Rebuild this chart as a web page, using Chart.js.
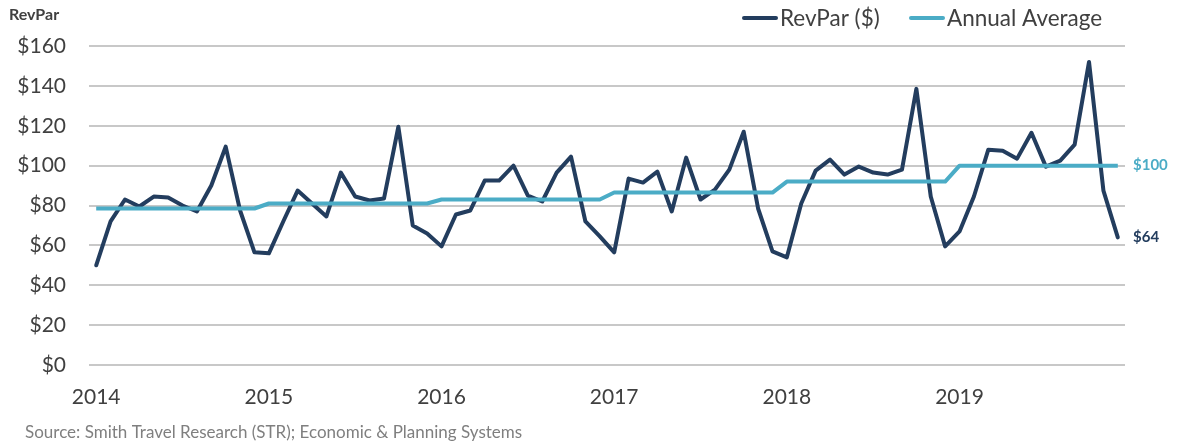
<!DOCTYPE html>
<html>
<head>
<meta charset="utf-8">
<script src="https://cdn.jsdelivr.net/npm/chart.js@4.4.0/dist/chart.umd.min.js"></script>
<style>
  html, body { margin: 0; padding: 0; background: #fff; }
  #wrap { width: 1177px; height: 447px; position: relative; }
</style>
</head>
<body>
<div id="wrap"><canvas id="revparChart"></canvas></div>
<script>
(function () {
  'use strict';

  var years = ['2014', '2015', '2016', '2017', '2018', '2019'];
  var months = ['01', '02', '03', '04', '05', '06', '07', '08', '09', '10', '11', '12'];

  // monthly RevPar, Jan 2014 - Dec 2019
  var revpar = [
    50, 72, 83, 79.5, 84.5, 84, 80, 77, 90, 109.5, 77.5, 56.5,
    56, 72, 87.5, 81, 74.5, 96.5, 84.5, 82.5, 83.5, 119.5, 70, 66,
    59.5, 75.5, 77.5, 92.5, 92.5, 100, 85, 82, 96.5, 104.5, 72, 64.5,
    56.5, 93.5, 91.5, 97, 77, 104, 83, 88, 98, 117, 78.5, 57,
    54, 81, 97.5, 103, 95.5, 99.5, 96.5, 95.5, 98, 138.5, 84.5, 59.5,
    67, 84.5, 108, 107.5, 103.5, 116.5, 99.5, 102.5, 110.5, 152, 87.5, 64
  ];
  var annualAvg = [78.5, 81, 83, 86.5, 92, 100];

  var yTicks = [0, 20, 40, 60, 80, 100, 120, 140, 160];

  var navy = '#233D5E';
  var teal = '#4BACC6';
  var font = 'Lato, "Open Sans", sans-serif';

  var labels = [];
  var avgSeries = [];
  years.forEach(function (y, yi) {
    months.forEach(function (m) {
      labels.push(y + '-' + m);
      avgSeries.push(annualAvg[yi]);
    });
  });

  var extras = {
    id: 'extras',
    afterDraw: function (chart) {
      var ctx = chart.ctx;
      var ys = chart.scales.y;
      var last = revpar.length - 1;
      ctx.save();
      ctx.textBaseline = 'middle';

      // corner title
      ctx.fillStyle = '#404040';
      ctx.font = 'bold 16px ' + font;
      ctx.textAlign = 'left';
      ctx.fillText('RevPar', 9, 15);

      // end labels
      ctx.font = 'bold 15px ' + font;
      ctx.fillStyle = teal;
      ctx.fillText('$' + avgSeries[last], 1133, ys.getPixelForValue(avgSeries[last]));
      ctx.fillStyle = navy;
      ctx.fillText('$' + Math.round(revpar[last]), 1133, ys.getPixelForValue(revpar[last]));

      // legend
      var items = [
        { text: 'RevPar ($)', color: navy, x: 742 },
        { text: 'Annual Average', color: teal, x: 909 }
      ];
      ctx.font = '22.5px ' + font;
      ctx.lineWidth = 4;
      ctx.lineCap = 'round';
      items.forEach(function (it) {
        ctx.strokeStyle = it.color;
        ctx.beginPath();
        ctx.moveTo(it.x + 2, 18);
        ctx.lineTo(it.x + 34, 18);
        ctx.stroke();
        ctx.fillStyle = '#404040';
        ctx.fillText(it.text, it.x + 38, 19);
      });

      // source
      ctx.font = '17px ' + font;
      ctx.fillStyle = '#7F7F7F';
      ctx.fillText('Source: Smith Travel Research (STR); Economic & Planning Systems', 25, 433);
      ctx.restore();
    }
  };

  var ctx = document.getElementById('revparChart').getContext('2d');
  var chart = new Chart(ctx, {
    type: 'line',
    data: {
      labels: labels,
      datasets: [{
        label: 'Annual Average',
        data: avgSeries,
        borderColor: teal,
        backgroundColor: teal,
        borderWidth: 4,
        pointRadius: 0,
        tension: 0,
        borderJoinStyle: 'round'
      }, {
        label: 'RevPar ($)',
        data: revpar,
        borderColor: navy,
        backgroundColor: navy,
        borderWidth: 4,
        pointRadius: 0,
        tension: 0,
        borderCapStyle: 'round',
        borderJoinStyle: 'round'
      }]
    },
    options: {
      responsive: true,
      maintainAspectRatio: false,
      animation: false,
      layout: { padding: { left: 0, top: 46, right: 52, bottom: 0 } },
      plugins: {
        legend: { display: false },
        tooltip: { enabled: false }
      },
      scales: {
        x: {
          offset: true,
          grid: { display: false, drawTicks: false },
          border: { display: false },
          afterFit: function (s) { s.height = 82; },
          ticks: {
            autoSkip: false,
            maxRotation: 0,
            padding: 20,
            color: '#404040',
            font: { family: font, size: 21 },
            callback: function (v, i) {
              return i % 12 === 0 ? years[i / 12] : '';
            }
          }
        },
        y: {
          min: 0,
          max: 160,
          afterFit: function (s) { s.width = 89; },
          afterBuildTicks: function (s) {
            s.ticks = yTicks.map(function (v) { return { value: v }; });
          },
          grid: { color: '#C8C8C8', lineWidth: 2, drawTicks: false },
          border: { display: false },
          ticks: {
            padding: 23,
            color: '#404040',
            font: { family: font, size: 21 },
            callback: function (v) { return '$' + v; }
          }
        }
      }
    },
    plugins: [extras]
  });
})();
</script>
</body>
</html>
